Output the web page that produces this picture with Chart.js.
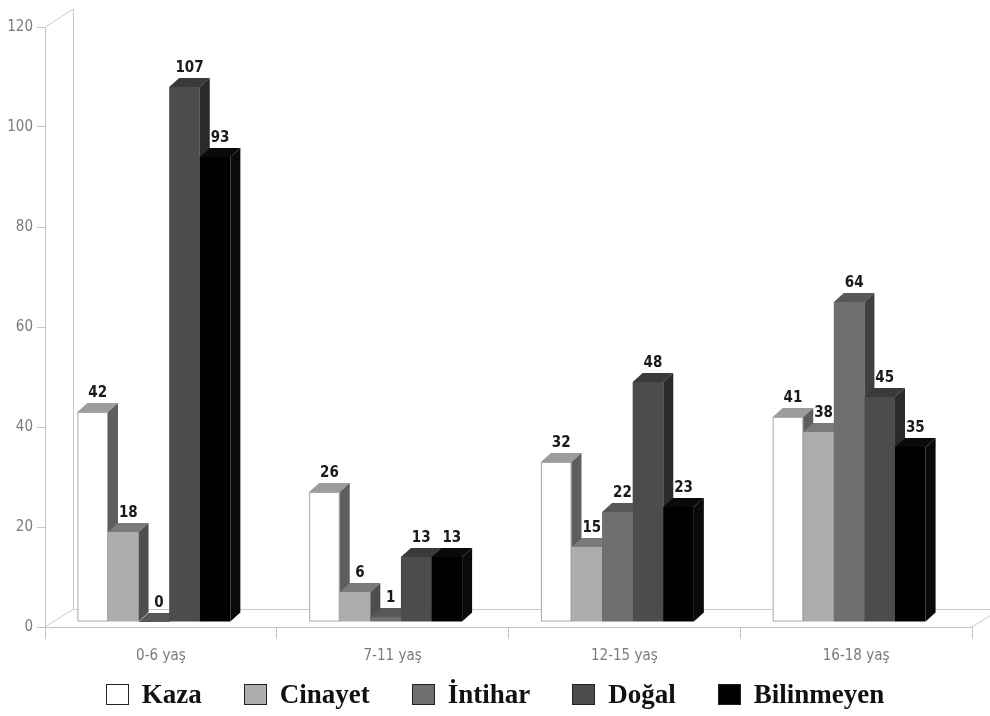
<!DOCTYPE html>
<html lang="tr">
<head>
<meta charset="utf-8">
<title>Yaş gruplarına göre ölüm nedenleri</title>
<script src="https://cdn.jsdelivr.net/npm/chart.js@4.4.1/dist/chart.umd.min.js"></script>
<style>
  html, body { margin: 0; padding: 0; background: #ffffff; }
  #wrap { width: 990px; height: 716px; position: relative; }
  #legend {
    position: absolute; left: 0; top: 682px; width: 990px;
    display: flex; justify-content: center; align-items: center; gap: 42px;
    font-family: 'Liberation Serif', 'DejaVu Serif', serif;
    font-weight: bold; font-size: 27px; color: #111111; line-height: 24px;
  }
  #legend .item { display: flex; align-items: center; }
  #legend .box {
    width: 21px; height: 19px; border: 1.5px solid #222222; margin-right: 13px;
  }
</style>
</head>
<body>
<div id="wrap">
  <canvas id="chart" width="990" height="716"></canvas>
  <div id="legend"></div>
</div>
<script>
// Age groups and number of deaths per cause
const categories = ['0-6 yaş', '7-11 yaş', '12-15 yaş', '16-18 yaş'];
const kaza       = [42, 26, 32, 41];
const cinayet    = [18, 6, 15, 38];
const intihar    = [0, 1, 22, 64];
const dogal      = [107, 13, 48, 45];
const bilinmeyen = [93, 13, 23, 35];
const seriesNames = ['Kaza', 'Cinayet', 'İntihar', 'Doğal', 'Bilinmeyen'];
const yMax = 120;
const yStep = 20;

// Face shades for the pseudo-3D columns (front / top / side)
const faces = [
  { front: '#ffffff', top: '#9c9c9c', side: '#5e5e5e', edge: '#a8a8a8' },
  { front: '#adadad', top: '#7a7a7a', side: '#4e4e4e' },
  { front: '#6f6f6f', top: '#585858', side: '#404040' },
  { front: '#4c4c4c', top: '#3a3a3a', side: '#2a2a2a' },
  { front: '#000000', top: '#0a0a0a', side: '#0a0a0a' }
];
const depth = { dx: 10, dy: -9 };      // column depth
const shift = { x: -7, y: -5 };        // columns stand slightly inside the floor
const wall  = { dx: 28, dy: -18 };     // floor / wall depth
const narrow = "'Liberation Sans Narrow', 'DejaVu Sans Condensed', 'Arial Narrow', sans-serif";

function poly(ctx, pts, fill) {
  ctx.beginPath();
  ctx.moveTo(pts[0][0], pts[0][1]);
  for (let k = 1; k < pts.length; k++) ctx.lineTo(pts[k][0], pts[k][1]);
  ctx.closePath();
  ctx.fillStyle = fill;
  ctx.fill();
}

const frame3d = {
  id: 'frame3d',
  beforeDatasetsDraw(chart) {
    const { ctx, chartArea: a } = chart;
    ctx.save();
    ctx.strokeStyle = '#c9c9c9';
    ctx.lineWidth = 1;
    const bx = a.left + wall.dx, by = a.bottom + wall.dy;
    ctx.beginPath();
    ctx.moveTo(a.left + 0.5, a.top);         ctx.lineTo(bx + 0.5, a.top + wall.dy);
    ctx.moveTo(bx + 0.5, a.top + wall.dy);   ctx.lineTo(bx + 0.5, by);
    ctx.moveTo(a.left, a.bottom);            ctx.lineTo(bx, by + 0.5);
    ctx.moveTo(bx, by + 0.5);                ctx.lineTo(a.right + wall.dx, by + 0.5);
    ctx.moveTo(a.right, a.bottom);           ctx.lineTo(a.right + wall.dx, by + 0.5);
    ctx.stroke();
    ctx.restore();
  },
  beforeDatasetDraw() {
    return false; // columns are painted in afterDatasetsDraw
  },
  afterDatasetsDraw(chart) {
    const ctx = chart.ctx;
    ctx.save();
    const tops = [];
    chart.data.datasets.forEach((ds, i) => {
      const meta = chart.getDatasetMeta(i);
      const f = faces[i];
      meta.data.forEach((bar, j) => {
        const p = bar.getProps(['x', 'y', 'base', 'width'], true);
        const l = p.x - p.width / 2 + shift.x;
        const r = p.x + p.width / 2 + shift.x;
        const t = p.y + shift.y;
        const b = p.base + shift.y;
        ctx.fillStyle = f.front;
        ctx.fillRect(l, t, r - l, b - t);
        if (f.edge) {
          ctx.strokeStyle = f.edge;
          ctx.lineWidth = 1;
          ctx.strokeRect(l + 0.5, t + 0.5, r - l - 1, b - t - 1);
        }
        poly(ctx, [[l, t], [l + depth.dx, t + depth.dy], [r + depth.dx, t + depth.dy], [r, t]], f.top);
        poly(ctx, [[r, t], [r + depth.dx, t + depth.dy], [r + depth.dx, b + depth.dy], [r, b]], f.side);
        tops.push({ x: (l + r) / 2 + depth.dx / 2, y: t + depth.dy - 2, v: ds.data[j] });
      });
    });
    ctx.fillStyle = '#1a1a1a';
    ctx.font = 'bold 15px ' + narrow;
    ctx.textAlign = 'center';
    ctx.textBaseline = 'bottom';
    tops.forEach(o => ctx.fillText(String(o.v), o.x, o.y));
    ctx.restore();
  }
};

const values = [kaza, cinayet, intihar, dogal, bilinmeyen];

const chart = new Chart(document.getElementById('chart'), {
  type: 'bar',
  data: {
    labels: categories,
    datasets: seriesNames.map((name, i) => ({
      label: name,
      data: values[i],
      backgroundColor: faces[i].front,
      borderColor: '#222222',
      borderWidth: 1.5,
      categoryPercentage: 0.66,
      barPercentage: 1.0
    }))
  },
  options: {
    responsive: false,
    animation: false,
    layout: { padding: { top: 27, right: 18, bottom: 48, left: 0 } },
    scales: {
      x: {
        grid: { display: true, drawOnChartArea: false, drawTicks: true, tickLength: 12, color: '#c4c4c4', offset: true },
        border: { display: true, color: '#c4c4c4' },
        ticks: { color: '#7a7a7a', font: { family: narrow, size: 15 }, padding: 8 },
        afterFit(scale) { scale.height = 41; }
      },
      y: {
        min: 0, max: yMax,
        ticks: { stepSize: yStep, color: '#7a7a7a', font: { family: narrow, size: 15 }, padding: 4 },
        grid: { display: true, drawOnChartArea: false, drawTicks: true, tickLength: 8, color: '#c4c4c4' },
        border: { display: true, color: '#c4c4c4' },
        afterFit(scale) { scale.width = 45; }
      }
    },
    plugins: {
      tooltip: { enabled: false },
      legend: { display: false }
    }
  },
  plugins: [frame3d]
});

// Legend row under the chart, built from the chart's datasets
const legendEl = document.getElementById('legend');
chart.data.datasets.forEach((ds, i) => {
  const item = document.createElement('div');
  item.className = 'item';
  const box = document.createElement('span');
  box.className = 'box';
  box.style.background = faces[i].front;
  const txt = document.createElement('span');
  txt.textContent = ds.label;
  item.appendChild(box);
  item.appendChild(txt);
  legendEl.appendChild(item);
});
</script>
</body>
</html>
